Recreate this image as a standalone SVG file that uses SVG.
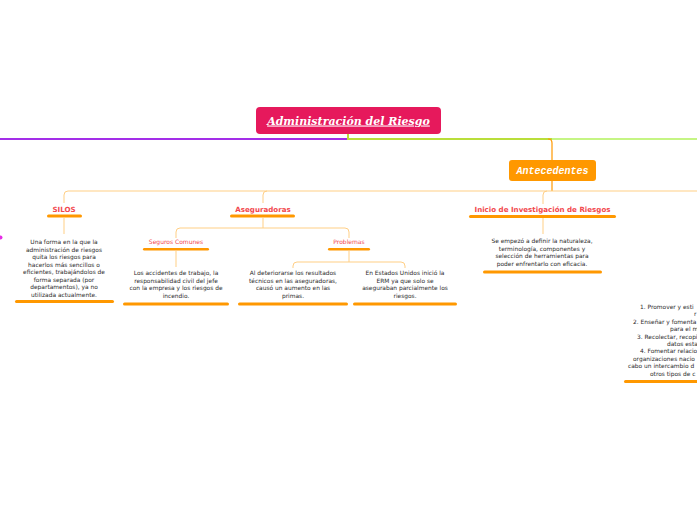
<svg xmlns="http://www.w3.org/2000/svg" width="697" height="520" viewBox="0 0 697 520">
<style>
.conn{fill:none;stroke:#ffcf85;stroke-width:1}
.bar{fill:#ff9800}
.h{font-family:"DejaVu Sans",Verdana,sans-serif;font-size:7.1px;font-weight:bold;fill:#f2474d;text-anchor:middle}
.s{font-family:"DejaVu Sans",Verdana,sans-serif;font-size:6px;fill:#f2474d;text-anchor:middle}
.d{font-family:"DejaVu Sans",Verdana,sans-serif;font-size:5.9px;fill:#2b2b2b;text-anchor:middle}
.f{font-family:"DejaVu Sans",Verdana,sans-serif;font-size:5.9px;fill:#2b2b2b}
</style>
<rect width="697" height="520" fill="#fff"/>
<g id="connectors">
<line x1="0" y1="139" x2="348" y2="139" stroke="#a32ee8" stroke-width="2"/>
<path d="M348 134 V139 H552" fill="none" stroke="#b9de3a" stroke-width="2"/>
<line x1="552" y1="139" x2="697" y2="139" stroke="#c5f584" stroke-width="2"/>
<path d="M548 139 Q552 139 552 143 V160" fill="none" stroke="#ff9800" stroke-width="1.2"/>
<line x1="552" y1="181" x2="552" y2="191" stroke="#ff9800" stroke-width="1.2"/>
<path d="M697 191 H68 Q64 191 64 195 V203" class="conn" stroke="#ffc46a"/>
<path d="M267 191 Q263 191 263 195 V203" class="conn"/>
<path d="M547 191 Q543 191 543 195 V204" class="conn"/>
<path d="M64 218 V234" class="conn"/>
<path d="M263 218 V228 M176 238 V232 Q176 228 180 228 H345 Q349 228 349 232 V238" class="conn"/>
<path d="M176 251 V267" class="conn"/>
<path d="M349 251 V262 M293 268 V266 Q293 262 297 262 H401 Q405 262 405 266 V268" class="conn"/>
<path d="M543 218 V234" class="conn"/>
</g>
<g id="root">
<rect x="256" y="107" width="185" height="27" rx="4" fill="#e6195c"/>
<text x="348.5" y="124.5" font-family="'DejaVu Serif',Georgia,serif" font-size="11" font-weight="bold" font-style="italic" fill="#fff" text-anchor="middle" text-decoration="underline">Administración del Riesgo</text>
</g>
<g id="antecedentes">
<rect x="509" y="160" width="87" height="21" rx="3" fill="#ff9800"/>
<text x="552.5" y="174" font-family="'Liberation Mono','Courier New',monospace" font-size="10" font-weight="bold" font-style="italic" fill="#fff" text-anchor="middle">Antecedentes</text>
</g>
<g id="silos">
<text class="h" x="64" y="211.5">SILOS</text>
<rect class="bar" x="47" y="214.5" width="35" height="3" rx="1.5"/>
</g>
<g id="silos-desc">
<text class="d" x="64" y="244">Una forma en la que la</text>
<text class="d" x="64" y="251.5">administración de riesgos</text>
<text class="d" x="64" y="259">quita los riesgos para</text>
<text class="d" x="64" y="266.5">hacerlos más sencillos o</text>
<text class="d" x="64" y="274">eficientes, trabajándolos de</text>
<text class="d" x="64" y="281.5">forma separada (por</text>
<text class="d" x="64" y="289">departamentos), ya no</text>
<text class="d" x="64" y="296.5">utilizada actualmente.</text>
<rect class="bar" x="15" y="300" width="99" height="3" rx="1.5"/>
</g>
<g id="aseguradoras">
<text class="h" x="263" y="211.5">Aseguradoras</text>
<rect class="bar" x="230" y="214.5" width="65" height="3" rx="1.5"/>
</g>
<g id="seguros-comunes">
<text class="s" x="176" y="244">Seguros Comunes</text>
<rect class="bar" x="143" y="248" width="66" height="2.5" rx="1.2"/>
</g>
<g id="seguros-desc">
<text class="d" x="176" y="275">Los accidentes de trabajo, la</text>
<text class="d" x="176" y="282.7">responsabilidad civil del jefe</text>
<text class="d" x="176" y="290.3">con la empresa y los riesgos de</text>
<text class="d" x="176" y="298">incendio.</text>
<rect class="bar" x="123" y="302.5" width="106" height="3" rx="1.5"/>
</g>
<g id="problemas">
<text class="s" x="349" y="244">Problemas</text>
<rect class="bar" x="328" y="248" width="42" height="2.5" rx="1.2"/>
</g>
<g id="problemas-1">
<text class="d" x="293" y="275">Al deteriorarse los resultados</text>
<text class="d" x="293" y="282.7">técnicos en las aseguradoras,</text>
<text class="d" x="293" y="290.3">causó un aumento en las</text>
<text class="d" x="293" y="298">primas.</text>
<rect class="bar" x="238" y="302.5" width="110" height="3" rx="1.5"/>
</g>
<g id="problemas-2">
<text class="d" x="405" y="275">En Estados Unidos inició la</text>
<text class="d" x="405" y="282.7">ERM ya que solo se</text>
<text class="d" x="405" y="290.3">aseguraban parcialmente los</text>
<text class="d" x="405" y="298">riesgos.</text>
<rect class="bar" x="353" y="302.5" width="104" height="3" rx="1.5"/>
</g>
<g id="inicio">
<text class="h" x="542.5" y="211.5">Inicio de Investigación de Riesgos</text>
<rect class="bar" x="469" y="215" width="147" height="3" rx="1.5"/>
</g>
<g id="inicio-desc">
<text class="d" x="542" y="243">Se empezó a definir la naturaleza,</text>
<text class="d" x="542" y="250.5">terminología, componentes y</text>
<text class="d" x="542" y="258">selección de herramientas para</text>
<text class="d" x="542" y="265.5">poder enfrentarlo con eficacia.</text>
<rect class="bar" x="483" y="270.5" width="119" height="3" rx="1.5"/>
</g>
<g id="objetivos">
<text class="f" x="640" y="309">1. Promover y esti</text>
<text class="f" x="694" y="315.5">r</text>
<text class="f" x="633" y="324">2. Enseñar y fomenta</text>
<text class="f" x="670" y="330.5">para el m</text>
<text class="f" x="637" y="339">3. Recolectar, recopi</text>
<text class="f" x="667" y="345.5">datos esta</text>
<text class="f" x="640" y="353">4. Fomentar relacio</text>
<text class="f" x="633" y="360.5">organizaciones nacio</text>
<text class="f" x="628" y="368">cabo un intercambio d</text>
<text class="f" x="650" y="375.5">otros tipos de c</text>
<rect class="bar" x="624" y="380" width="80" height="3" rx="1.5"/>
</g>
<g id="dot">
<circle cx="0.5" cy="237.5" r="2" fill="#e62ee6"/>
</g>
</svg>
